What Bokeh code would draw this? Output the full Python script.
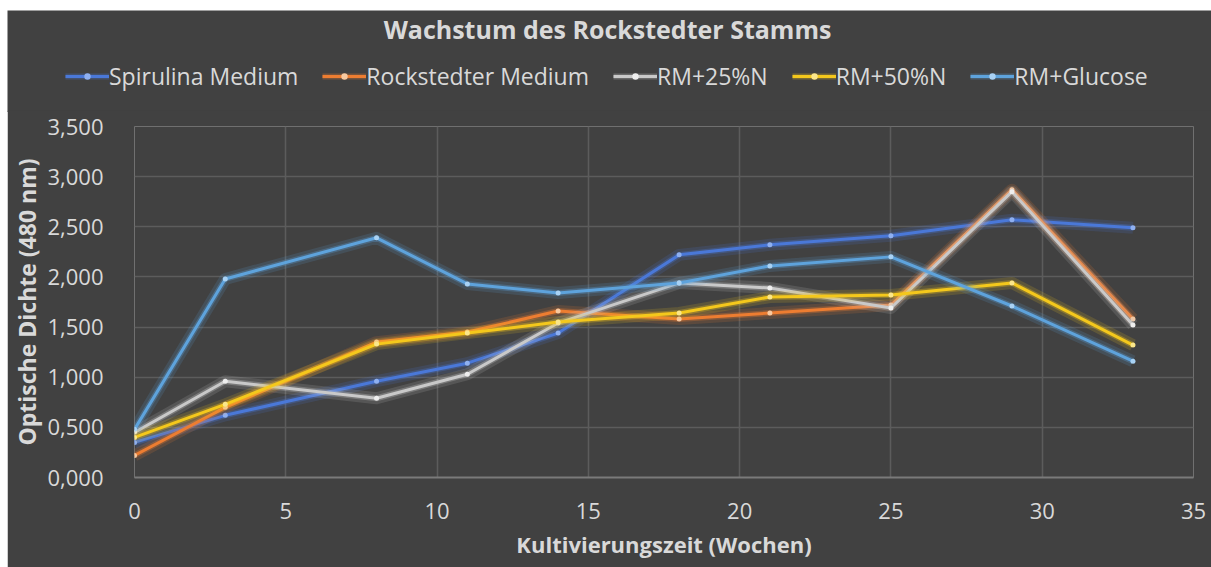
from bokeh.plotting import figure
from bokeh.models import (Range1d, FixedTicker, CustomJSTickFormatter, Legend, LegendItem,
                          Label, Spacer, Grid)
from bokeh.layouts import row, column
from bokeh.embed import file_html
from bokeh.resources import INLINE

# Kultivierungszeit in Wochen
weeks = [0, 3, 8, 11, 14, 18, 21, 25, 29, 33]

# Optische Dichte bei 480 nm
spirulina = [0.35, 0.62, 0.96, 1.14, 1.44, 2.22, 2.32, 2.41, 2.57, 2.49]
rockstedter = [0.22, 0.70, 1.35, 1.45, 1.66, 1.58, 1.64, 1.72, 2.87, 1.58]
rm_25n = [0.45, 0.96, 0.79, 1.03, 1.54, 1.94, 1.89, 1.69, 2.85, 1.52]
rm_50n = [0.40, 0.73, 1.33, 1.44, 1.55, 1.64, 1.80, 1.82, 1.94, 1.32]
rm_glucose = [0.48, 1.98, 2.39, 1.93, 1.84, 1.94, 2.11, 2.20, 1.71, 1.16]

series_names = ["Spirulina Medium", "Rockstedter Medium", "RM+25%N", "RM+50%N", "RM+Glucose"]
series_values = [spirulina, rockstedter, rm_25n, rm_50n, rm_glucose]
series_colors = ["#4a78d8", "#ed7d31", "#c9c9c9", "#f4c81c", "#5ea3dc"]
marker_colors = ["#8fb0f0", "#f7c9a0", "#eeeeee", "#fbe68a", "#a9d2f4"]

x_ticks = [0, 5, 10, 15, 20, 25, 30, 35]
y_ticks = [0.0, 0.5, 1.0, 1.5, 2.0, 2.5, 3.0, 3.5]

chart_title = "Wachstum des Rockstedter Stamms"
x_label = "Kultivierungszeit (Wochen)"
y_label = "Optische Dichte (480 nm)"

BG = "#414141"
TXT = "#d9d9d9"
GRID = "#5c5c5c"
FONT = "Open Sans"


def add_series(fig, x, y, col, mcol):
    """Line with a soft glow and small point markers; returns the legend renderers."""
    fig.line(x, y, line_color=col, line_width=12, line_alpha=0.16, line_join="round")
    g2 = fig.line(x, y, line_color=col, line_width=6, line_alpha=0.3, line_join="round")
    ln = fig.line(x, y, line_color=col, line_width=3, line_join="round")
    mk = fig.scatter(x, y, marker="circle", size=5, fill_color=mcol, line_color=None)
    return [g2, ln, mk]


# ---- header strip: title and legend (pixel coordinates) -----------------
head = figure(width=1204, height=102, output_backend="svg", toolbar_location=None,
              x_range=Range1d(0, 1204), y_range=Range1d(10, 112),
              x_axis_type=None, y_axis_type=None,
              background_fill_color=BG, border_fill_color=BG, outline_line_color=None,
              min_border=0, min_border_left=0, min_border_right=0,
              min_border_top=0, min_border_bottom=0)
head.center = [c for c in head.center if not isinstance(c, Grid)]

head.add_layout(Label(x=600, y=94, text=chart_title, text_align="center",
                      text_baseline="middle", text_color=TXT, text_font=FONT,
                      text_font_style="bold", text_font_size="25px"))

legend_items = []
for name, vals, col, mcol in zip(series_names, series_values, series_colors, marker_colors):
    # the series sit below this strip's visible range; only their legend keys show
    rs = add_series(head, weeks, vals, col, mcol)
    legend_items.append(LegendItem(label=name, renderers=rs))

head.add_layout(Legend(items=legend_items, orientation="horizontal", location=(58, 20),
                       background_fill_alpha=0, border_line_color=None,
                       label_text_color=TXT, label_text_font=FONT, label_text_font_size="23px",
                       glyph_width=44, glyph_height=16, label_standoff=0, spacing=24,
                       padding=0, margin=0))

# ---- main chart ---------------------------------------------------------
p = figure(width=1204, height=457, output_backend="svg", toolbar_location=None,
           x_range=Range1d(0, 35), y_range=Range1d(0, 3.5),
           background_fill_color=BG, border_fill_color=BG, outline_line_color=None,
           min_border_left=127, min_border_right=18, min_border_top=16, min_border_bottom=90,
           margin=(-2, 0, 0, 0))

p.xgrid.ticker = FixedTicker(ticks=x_ticks)
p.ygrid.ticker = FixedTicker(ticks=y_ticks)
for g in (p.xgrid, p.ygrid):
    g.grid_line_color = GRID
    g.grid_line_width = 1.5

p.xaxis.ticker = FixedTicker(ticks=x_ticks)
p.yaxis.ticker = FixedTicker(ticks=y_ticks)
p.yaxis.formatter = CustomJSTickFormatter(code="return tick.toFixed(3).replace('.', ',');")
for ax in (p.xaxis[0], p.yaxis[0]):
    ax.major_tick_line_color = None
    ax.minor_tick_line_color = None
    ax.major_label_text_color = TXT
    ax.major_label_text_font = FONT
    ax.major_label_text_font_size = "22px"
    ax.axis_label_text_color = TXT
    ax.axis_label_text_font = FONT
    ax.axis_label_text_font_style = "bold"
p.xaxis.axis_label_text_font_size = "22px"
p.yaxis.axis_label_text_font_size = "23px"
p.xaxis.axis_line_color = "#7a7a7a"
p.xaxis.axis_line_width = 2
p.yaxis.axis_line_color = None
p.xaxis.major_label_standoff = 19
p.yaxis.major_label_standoff = 25
p.xaxis.axis_label = x_label
p.yaxis.axis_label = y_label
p.xaxis.axis_label_standoff = 7
p.yaxis.axis_label_standoff = 1

for vals, col, mcol in zip(series_values, series_colors, marker_colors):
    add_series(p, weeks, vals, col, mcol)

layout = row(Spacer(width=7, height=567),
             column(Spacer(width=1204, height=10), row(head), p, spacing=0), spacing=0)

open("out.html", "w").write(file_html(layout, INLINE))
